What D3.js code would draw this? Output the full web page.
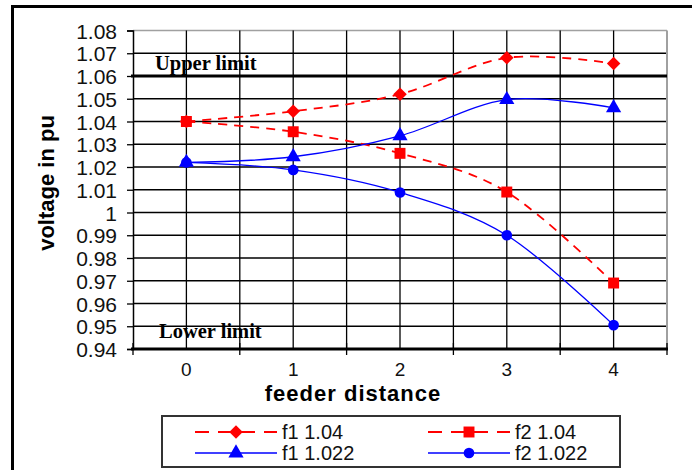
<!DOCTYPE html>
<html><head><meta charset="utf-8">
<script src="https://cdn.jsdelivr.net/npm/d3@7"></script>
<style>
html,body{margin:0;padding:0;background:#fff;}
svg{display:block;}
</style></head>
<body>
<script>
const categories = [0, 1, 2, 3, 4];
const yTicks = [0.94,0.95,0.96,0.97,0.98,0.99,1,1.01,1.02,1.03,1.04,1.05,1.06,1.07,1.08];
const f1_104 = [1.040, 1.0445, 1.052, 1.068, 1.0655];
const f2_104 = [1.040, 1.0355, 1.026, 1.009, 0.969];
const f1_1022 = [1.022, 1.0245, 1.0337, 1.0496, 1.046];
const f2_1022 = [1.022, 1.0187, 1.0088, 0.990, 0.9505];
const seriesNames = ["f1 1.04", "f2 1.04", "f1 1.022", "f2 1.022"];
const upperLimit = 1.06, lowerLimit = 0.94;

const W = 692, H = 470;
const svg = d3.select("body").append("svg").attr("width", W).attr("height", H);

// outer frame
svg.append("path").attr("d", "M12.5,470 V6.5 H692").attr("fill","none").attr("stroke","#000").attr("stroke-width",3);

const L = 133, R = 667, T = 30.5, B = 349;
const x = d3.scaleBand().domain(categories).range([L, R]).padding(0);
const bw = x.bandwidth();
const xc = d => x(d) + bw/2;
const y = d3.scaleLinear().domain([0.94, 1.08]).range([B, T]);

const g = svg.append("g");
// horizontal gridlines
g.selectAll("line.hg").data(yTicks.filter(v => v > 0.94)).join("line")
  .attr("x1", L).attr("x2", R).attr("y1", d => y(d)).attr("y2", d => y(d))
  .attr("stroke", d => d === 1.08 ? "#a0a0a0" : "#000").attr("stroke-width", 1.3);
// vertical gridlines at band edges and centers
const vx = [];
categories.forEach(c => { if (c > 0) vx.push(x(c)); vx.push(xc(c)); });
g.selectAll("line.vg").data(vx).join("line")
  .attr("x1", d => d).attr("x2", d => d).attr("y1", T).attr("y2", B)
  .attr("stroke", "#000").attr("stroke-width", 1.3);
// right border
g.append("line").attr("x1", R).attr("x2", R).attr("y1", T).attr("y2", B).attr("stroke", "#a0a0a0").attr("stroke-width", 2);

// y axis
const yAxis = d3.axisLeft(y).tickValues(yTicks).tickSize(6).tickFormat(d => d3.format("")(+d.toFixed(2)));
const ya = svg.append("g").attr("transform", `translate(${L},0)`).call(yAxis);
ya.select(".domain").attr("stroke", "#000").attr("stroke-width", 1.5);
ya.selectAll(".tick line").attr("stroke", "#000").attr("stroke-width", 1.3);
ya.selectAll(".tick text").attr("font-family", "Liberation Sans, Arial, sans-serif").attr("font-size", 21)
  .attr("fill", "#111").attr("x", -16).attr("dy", "0.36em");

// x axis
const xa = svg.append("g").attr("transform", `translate(0,${B})`);
xa.append("line").attr("x1", L - 2).attr("x2", R + 1).attr("y1", 0).attr("y2", 0).attr("stroke", "#000").attr("stroke-width", 3);
const edges = categories.map(c => x(c)).concat([R]);
xa.selectAll("line.xt").data(edges).join("line")
  .attr("x1", d => d).attr("x2", d => d).attr("y1", -6).attr("y2", 6).attr("stroke", "#000").attr("stroke-width", 1.3);
xa.selectAll("text").data(categories).join("text")
  .attr("x", d => xc(d)).attr("y", 27).attr("text-anchor", "middle")
  .attr("font-family", "Liberation Sans, Arial, sans-serif").attr("font-size", 19).attr("fill", "#111").text(d => d);

// upper / lower limit
svg.append("line").attr("x1", L - 2).attr("x2", R).attr("y1", y(upperLimit)).attr("y2", y(upperLimit)).attr("stroke", "#000").attr("stroke-width", 3);
svg.append("text").attr("x", 155).attr("y", y(upperLimit) - 6).attr("font-family", "Liberation Serif, Times New Roman, serif")
  .attr("font-weight", "bold").attr("font-size", 20.5).attr("fill", "#000").text("Upper limit");
svg.append("text").attr("x", 159).attr("y", y(lowerLimit) - 11).attr("font-family", "Liberation Serif, Times New Roman, serif")
  .attr("font-weight", "bold").attr("font-size", 20.5).attr("fill", "#000").text("Lower limit");

// axis titles
svg.append("text").attr("x", 353).attr("y", 401).attr("text-anchor", "middle")
  .attr("font-family", "Liberation Sans, Arial, sans-serif").attr("font-weight", "bold").attr("font-size", 22)
  .attr("letter-spacing", 1).attr("fill", "#000").text("feeder distance");
svg.append("text").attr("transform", "translate(54,183) rotate(-90)").attr("text-anchor", "middle")
  .attr("font-family", "Liberation Sans, Arial, sans-serif").attr("font-weight", "bold").attr("font-size", 22)
  .attr("fill", "#000").text("voltage in pu");

// series
const diamond = { draw(ctx, size) { const r = Math.sqrt(size) / 2 * 1.35; ctx.moveTo(0, -r); ctx.lineTo(r, 0); ctx.lineTo(0, r); ctx.lineTo(-r, 0); ctx.closePath(); } };
const series = [
  {name: seriesNames[0], vals: f1_104, color: "#ff0000", dash: "9,7", width: 1.8, sym: diamond, size: 100},
  {name: seriesNames[1], vals: f2_104, color: "#ff0000", dash: "9,7", width: 1.8, sym: d3.symbolSquare, size: 120},
  {name: seriesNames[2], vals: f1_1022, color: "#0000ff", dash: null, width: 1.3, sym: d3.symbolTriangle, size: 100},
  {name: seriesNames[3], vals: f2_1022, color: "#0000ff", dash: null, width: 1.3, sym: d3.symbolCircle, size: 90}
];
const line = d3.line().x((d, i) => xc(categories[i])).y(d => y(d)).curve(d3.curveCardinal.tension(0));
series.forEach(s => {
  svg.append("path").attr("d", line(s.vals)).attr("fill", "none").attr("stroke", s.color)
    .attr("stroke-width", s.width).attr("stroke-dasharray", s.dash);
  svg.selectAll(null).data(s.vals).join("path")
    .attr("transform", (d, i) => `translate(${xc(categories[i])},${y(d)})`)
    .attr("d", d3.symbol().type(s.sym).size(s.size)).attr("fill", s.color);
});

// legend
svg.append("rect").attr("x", 162).attr("y", 416).attr("width", 458).attr("height", 51)
  .attr("fill", "#fff").attr("stroke", "#333").attr("stroke-width", 2);
const lx = [195, 428], ly = [432, 453];
series.forEach((s, i) => {
  const cx = lx[i % 2], cy = ly[Math.floor(i / 2)];
  svg.append("line").attr("x1", cx).attr("x2", cx + 82).attr("y1", cy).attr("y2", cy)
    .attr("stroke", s.color).attr("stroke-width", s.width).attr("stroke-dasharray", s.dash ? "14,9" : null);
  svg.append("path").attr("transform", `translate(${cx + 41},${cy})`)
    .attr("d", d3.symbol().type(s.sym).size(s.size)).attr("fill", s.color);
  svg.append("text").attr("x", cx + 87).attr("y", cy + 7).attr("font-family", "Liberation Sans, Arial, sans-serif")
    .attr("font-size", 20).attr("fill", "#111").text(s.name);
});
</script>
</body></html>
